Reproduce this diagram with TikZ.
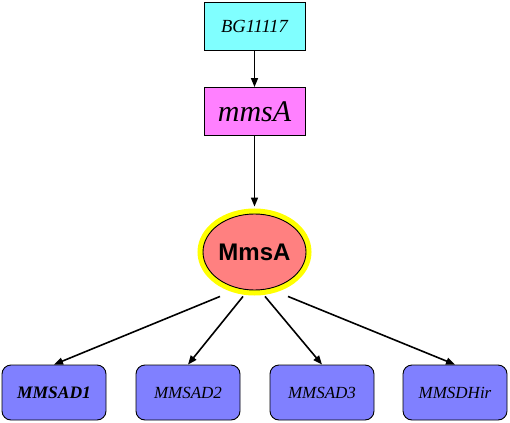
\documentclass[tikz,border=0pt]{standalone}
\usepackage{fontspec}
\setmainfont{Liberation Serif}
\newfontfamily\boldsans{Liberation Sans}
\usetikzlibrary{shapes.geometric,arrows.meta,calc}
\definecolor{cyanbox}{HTML}{80FFFF}
\definecolor{magbox}{HTML}{FF80FF}
\definecolor{salmon}{HTML}{FF8080}
\definecolor{bluebox}{HTML}{8080FF}
\definecolor{ring}{HTML}{FFFF00}
\begin{document}
\begin{tikzpicture}[x=1pt,y=-1pt,
  topbox/.style={draw=black, line width=0.9pt, minimum width=101pt, minimum height=48pt, inner sep=0pt},
  leafbox/.style={draw=black, line width=0.9pt, fill=bluebox, rounded corners=9pt, minimum width=104pt, minimum height=55pt, inner sep=0pt, font=\fontsize{17.5}{20}\selectfont\itshape\bfseries},
  leaftext/.style={font=\fontsize{17}{20}\selectfont\itshape},
  arr/.style={line width=1.6pt, -{Triangle[length=9pt,width=7pt]}}
]
\useasboundingbox (0,0) rectangle (510,422);
\node[topbox, fill=cyanbox, font=\fontsize{18.5}{21}\selectfont\itshape] (a) at (254.5,26) {BG11117};
\node[topbox, fill=magbox, font=\fontsize{30}{33}\selectfont\itshape] (b) at (254.5,111.5) {mmsA};
\node[ellipse, draw=black, line width=0.9pt, fill=salmon, preaction={draw=ring, line width=11pt},
  minimum width=103pt, minimum height=76pt, inner sep=0pt,
  font=\boldsans\fontsize{24}{27}\selectfont\bfseries] (m) at (254.5,252) {MmsA};
\node[leafbox] (c1) at (54,392.5) {MMSAD1};
\node[leafbox, leaftext] (c2) at (188,392.5) {MMSAD2};
\node[leafbox, leaftext] (c3) at (322,392.5) {MMSAD3};
\node[leafbox, leaftext] (c4) at (455,392.5) {MMSDHir};
\coordinate (s1) at ($(m.south)+(-34.5,6)$);
\coordinate (s2) at ($(m.south)+(-11.5,6)$);
\coordinate (s3) at ($(m.south)+(10.5,6)$);
\coordinate (s4) at ($(m.south)+(33.5,6)$);
\draw[arr] (a.south) -- (b.north);
\draw[arr, shorten >=7pt] (b.south) -- (m.north);
\draw[arr] (s1) -- (c1.north);
\draw[arr] (s2) -- (c2.north);
\draw[arr] (s3) -- (c3.north);
\draw[arr] (s4) -- (c4.north);
\end{tikzpicture}
\end{document}
